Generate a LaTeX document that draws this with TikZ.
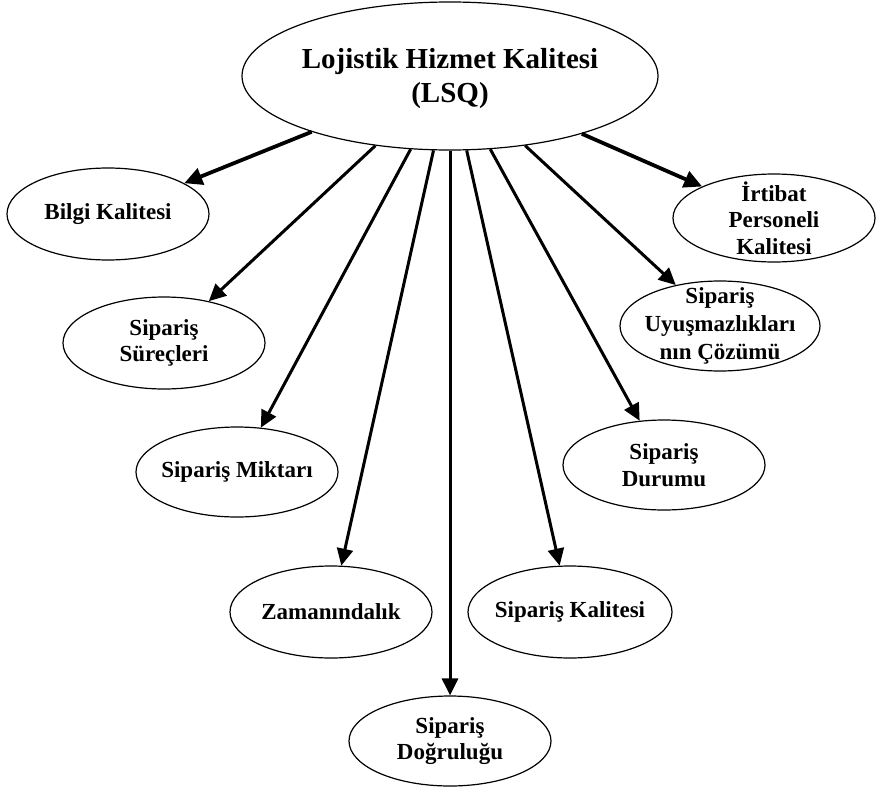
\documentclass[tikz,border=0pt]{standalone}
\usepackage{fontspec}
\setmainfont{Liberation Serif}
\usetikzlibrary{shapes.geometric,arrows.meta}
\tikzset{
  oval/.style={shape=ellipse, draw=black, line width=1.2pt, inner sep=0pt, fill=white},
  lbl/.style={font=\bfseries\fontsize{23}{26.5}\selectfont, align=center, inner sep=0pt},
  toplbl/.style={font=\bfseries\fontsize{29}{34}\selectfont, align=center, inner sep=0pt},
  conn/.style={line width=3pt, -{Triangle[length=17pt,width=16pt]}},
  bigconn/.style={line width=3.8pt, -{Triangle[length=18pt,width=17pt]}}
}
\begin{document}
\begin{tikzpicture}[x=1pt,y=-1pt]
\useasboundingbox (0,0) rectangle (877,792);
\fill[white] (0,0) rectangle (877,792);
% nodes
\node[oval, minimum width=416pt, minimum height=148pt] (lsq) at (450,76) {};
\node[oval, minimum width=202pt, minimum height=92pt] (bilgi) at (108,214) {};
\node[oval, minimum width=202pt, minimum height=88pt] (irtibat) at (774,218) {};
\node[oval, minimum width=202pt, minimum height=92pt] (surec) at (164,343) {};
\node[oval, minimum width=200pt, minimum height=90pt] (uyusma) at (720,326) {};
\node[oval, minimum width=202pt, minimum height=90pt] (miktar) at (237,472) {};
\node[oval, minimum width=202pt, minimum height=90pt] (durum) at (664,465) {};
\node[oval, minimum width=202pt, minimum height=92pt] (zaman) at (331,612) {};
\node[oval, minimum width=204pt, minimum height=92pt] (kalite) at (570,612) {};
\node[oval, minimum width=202pt, minimum height=90pt] (dogru) at (450,741) {};
% labels
\node[toplbl] (lsq-t) at (450,79) {Lojistik Hizmet Kalitesi\\(LSQ)};
\node[lbl] (bilgi-t) at (bilgi) {Bilgi Kalitesi};
\node[lbl] (irtibat-t) at (irtibat) {İrtibat\\Personeli\\Kalitesi};
\node[lbl] (surec-t) at (surec) {Sipariş\\Süreçleri};
\node[lbl, font=\bfseries\fontsize{23}{28}\selectfont] (uyusma-t) at (uyusma) {Sipariş\\Uyuşmazlıkları\\nın Çözümü};
\node[lbl] (miktar-t) at (miktar) {Sipariş Miktarı};
\node[lbl] (durum-t) at (durum) {Sipariş\\Durumu};
\node[lbl] (zaman-t) at (zaman) {Zamanındalık};
\node[lbl] (kalite-t) at (kalite) {Sipariş Kalitesi};
\node[lbl] (dogru-t) at (dogru) {Sipariş\\Doğruluğu};
% connectors
\draw[bigconn] (lsq) -- (bilgi);
\draw[bigconn] (lsq) -- (irtibat);
\draw[conn] (lsq) -- (surec);
\draw[conn] (lsq) -- (uyusma);
\draw[conn] (lsq) -- (miktar);
\draw[conn] (lsq) -- (durum);
\draw[conn] (lsq) -- (zaman);
\draw[conn] (lsq) -- (kalite);
\draw[conn] (lsq) -- (dogru);
\end{tikzpicture}
\end{document}
